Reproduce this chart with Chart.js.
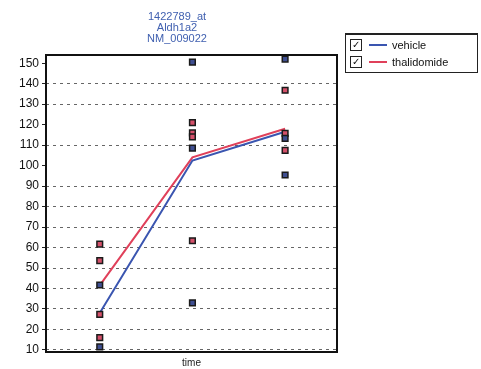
<!DOCTYPE html>
<html>
<head>
<meta charset="utf-8">
<script src="https://cdn.jsdelivr.net/npm/chart.js@4"></script>
<style>
  html, body { margin: 0; padding: 0; background: #fff; }
  #wrap { position: relative; width: 481px; height: 369px; }
  #legend {
    position: absolute; left: 345px; top: 33px; width: 131px; height: 37px;
    border: 1px solid #222; border-top-width: 2px;
    font: 11px "Liberation Sans", Arial, sans-serif; color: #111;
  }
  .row { position: absolute; left: 4px; height: 14px; line-height: 14px; }
  .cb { position: absolute; left: 0; top: 1px; width: 10px; height: 10px; border: 1px solid #222;
        font-size: 10px; line-height: 10px; text-align: center; }
  .sw { position: absolute; left: 19px; top: 6px; width: 18px; height: 2px; }
  .lb { position: absolute; left: 42px; top: 0; white-space: nowrap; }
</style>
</head>
<body>
<div id="wrap">
  <canvas id="myChart" width="481" height="369"></canvas>
  <div id="legend">
    <div class="row" style="top:3px"><div class="cb">✓</div><div class="sw" style="background:#3a55b0"></div><div class="lb">vehicle</div></div>
    <div class="row" style="top:20px"><div class="cb">✓</div><div class="sw" style="background:#e0405a"></div><div class="lb">thalidomide</div></div>
  </div>
</div>
<script>
// time points (1, 2, 3) - no tick labels shown on the x axis
const times = [1, 2, 3];

// group means (lines)
const vehicleMean = [28, 102.5, 116.5];
const thalidomideMean = [41.5, 104, 118];

// individual samples
const vehicleX = [1, 1, 2, 2, 2, 3, 3, 3];
const vehicleY = [41.7, 11.5, 150.5, 108.5, 33, 152, 113.3, 95.4];
const thalidomideX = [1, 1, 1, 1, 2, 2, 2, 2, 3, 3, 3];
const thalidomideY = [61.7, 53.6, 27.4, 16, 121, 116, 114, 63.3, 136.8, 115.7, 107.4];

const yTicks = [10, 20, 30, 40, 50, 60, 70, 80, 90, 100, 110, 120, 130, 140, 150];
const noGrid = [100, 120, 150];

const titleLines = ['1422789_at', 'Aldh1a2', 'NM_009022'];

function pts(xs, ys) {
  return xs.map((x, i) => ({x: x, y: ys[i]}));
}

const frame = {
  id: 'frame',
  afterDraw(chart) {
    const a = chart.chartArea, ctx = chart.ctx;
    ctx.save();
    ctx.strokeStyle = '#111';
    ctx.lineWidth = 2;
    ctx.setLineDash([]);
    ctx.strokeRect(a.left, a.top, a.right - a.left, a.bottom - a.top);
    // title
    ctx.fillStyle = '#4060b0';
    ctx.font = '11px "Liberation Sans", Arial, sans-serif';
    ctx.textAlign = 'center';
    ctx.textBaseline = 'middle';
    titleLines.forEach((t, i) => ctx.fillText(t, 177, 17 + i * 11));
    ctx.restore();
  }
};

const data = {
  datasets: [
    {
      type: 'line', label: 'vehicle', data: pts(times, vehicleMean),
      borderColor: '#3a55b0', borderWidth: 2, pointRadius: 0, order: 3
    },
    {
      type: 'line', label: 'thalidomide', data: pts(times, thalidomideMean),
      borderColor: '#e0405a', borderWidth: 2, pointRadius: 0, order: 4
    },
    {
      type: 'scatter', label: 'vehicle samples', data: pts(vehicleX, vehicleY),
      pointStyle: 'rect', pointRadius: 4, backgroundColor: '#3f4f92',
      borderColor: '#1a1a1a', borderWidth: 1.5, order: 1
    },
    {
      type: 'scatter', label: 'thalidomide samples', data: pts(thalidomideX, thalidomideY),
      pointStyle: 'rect', pointRadius: 4, backgroundColor: '#d4506a',
      borderColor: '#1a1a1a', borderWidth: 1.5, order: 2
    }
  ]
};

const config = {
  type: 'scatter',
  data: data,
  options: {
    responsive: false,
    animation: false,
    layout: { padding: { left: 0, right: 144, top: 55, bottom: 0 } },
    plugins: { legend: { display: false }, tooltip: { enabled: false } },
    scales: {
      x: {
        type: 'linear', min: 0.42, max: 3.56,
        grid: { display: false },
        border: { display: false },
        ticks: { display: false },
        title: {
          display: true, text: 'time', color: '#222', padding: 0,
          font: { family: '"Liberation Sans", Arial, sans-serif', size: 10 }
        },
        afterFit(s) { s.height = 17; }
      },
      y: {
        min: 9, max: 154,
        afterBuildTicks(s) { s.ticks = yTicks.map(v => ({value: v})); },
        ticks: {
          color: '#111', padding: 3,
          font: { family: '"Liberation Sans", Arial, sans-serif', size: 12 }
        },
        grid: {
          color: c => (c.tick && noGrid.includes(c.tick.value)) ? 'rgba(0,0,0,0)' : '#666',
          tickColor: '#222', tickLength: 4, tickBorderDash: [],
          lineWidth: 1
        },
        border: { display: false, dash: [3, 4] },
        afterFit(s) { s.width = 46; }
      }
    }
  },
  plugins: [frame]
};

const myChart = new Chart(document.getElementById('myChart'), config);
</script>
</body>
</html>
